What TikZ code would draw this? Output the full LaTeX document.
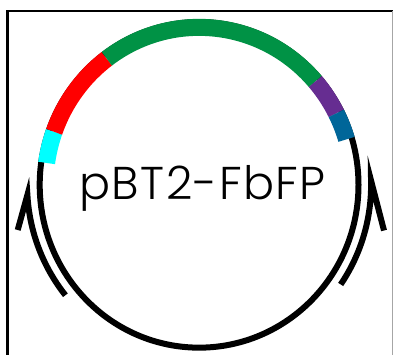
\documentclass[tikz,border=0pt]{standalone}
\usepackage{fontspec}
\IfFontExistsTF{Poppins Light}
  {\setmainfont{Poppins Light}[LetterSpace=3]}
  {\setmainfont{Poppins}[LetterSpace=3]}
\usetikzlibrary{calc}
\definecolor{gfpgreen}{RGB}{0,146,69}
\definecolor{tagred}{RGB}{255,0,0}
\definecolor{tagcyan}{RGB}{0,255,255}
\definecolor{tagpurple}{RGB}{102,45,145}
\definecolor{tagblue}{RGB}{0,102,153}
\tikzset{
  backbone/.style={line width=6pt, draw=black},
  feature/.style={line width=17pt, line cap=butt},
  strandarrow/.style={line width=6pt, draw=black, line cap=butt, line join=miter},
}
\begin{document}
\begin{tikzpicture}[x=1pt,y=1pt]
\useasboundingbox (0,0) rectangle (393,-354);
\clip (0,0) rectangle (393,-354);
% frame
\draw[line width=2.3pt] (7.5,-360) |- (400,-11);
\draw[black!35, line width=0.8pt] (392.6,-11) -- (392.6,-360);
\coordinate (C) at (199.1,-184.85);
% plasmid backbone
\draw[backbone] (C) ellipse [x radius=159.4, y radius=162.8];
% features
\draw[feature, tagcyan]   ($(C)+(172:154 and 157.5)$) arc[start angle=172, end angle=160.3, x radius=154, y radius=157.5];
\draw[feature, tagred]    ($(C)+(160.3:154 and 157.5)$) arc[start angle=160.3, end angle=126.8, x radius=154, y radius=157.5];
\draw[feature, gfpgreen]  ($(C)+(126.8:154 and 157.5)$) arc[start angle=126.8, end angle=41, x radius=154, y radius=157.5];
\draw[feature, tagpurple] ($(C)+(41:154 and 157.5)$) arc[start angle=41, end angle=27, x radius=154, y radius=157.5];
\draw[feature, tagblue]   ($(C)+(27:154 and 157.5)$) arc[start angle=27, end angle=16.8, x radius=154, y radius=157.5];
% strand arrows
\coordinate (lbarb) at (17.7,-230);
\coordinate (rbarb) at (384,-230.5);
\draw[strandarrow] ($(C)+(219:172 and 175.4)$) arc[start angle=219, end angle=183.3, x radius=172, y radius=175.4] -- (lbarb);
\draw[strandarrow] ($(C)+(-34.6:172 and 175.4)$) arc[start angle=-34.6, end angle=1.4, x radius=172, y radius=175.4] -- (rbarb);
% name
\node[anchor=base, inner sep=0pt, font=\fontsize{46}{50}\selectfont] (title) at (202.5,-199.3) {pBT2-FbFP};
\end{tikzpicture}
\end{document}
